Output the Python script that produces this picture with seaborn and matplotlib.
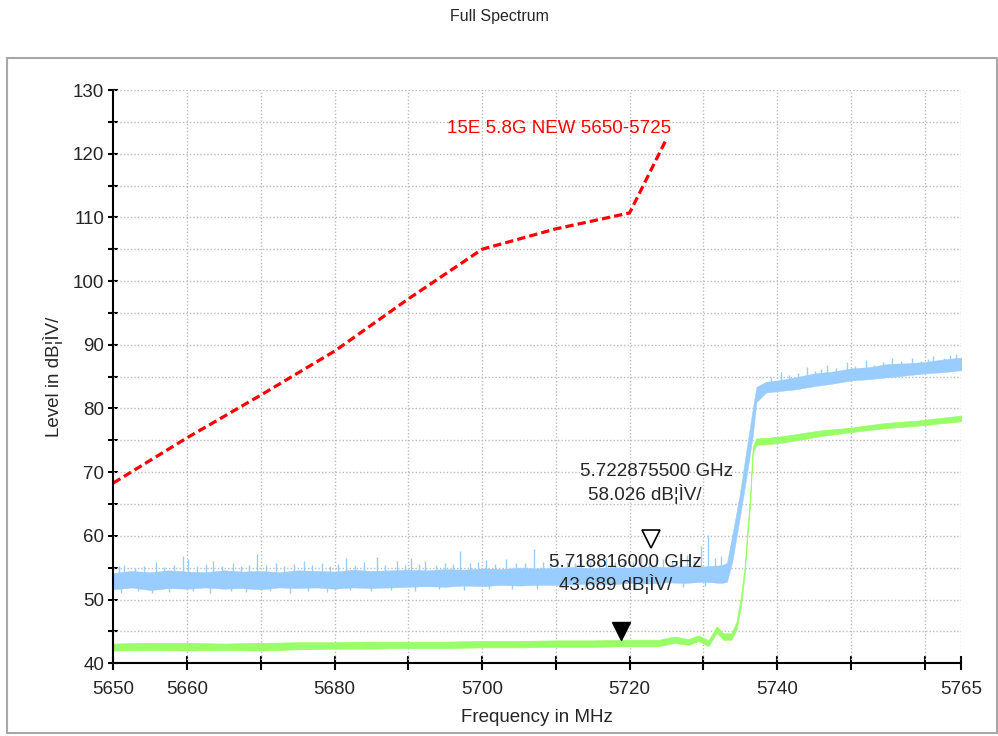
import numpy as np
import pandas as pd
import matplotlib
matplotlib.use('Agg')
import matplotlib.pyplot as plt
import matplotlib.transforms as mtransforms
from matplotlib.patches import Rectangle
import seaborn as sns

# DATA

# limit line 15E 5.8G NEW 5650-5725
limit_freq = [5650, 5660, 5670, 5680, 5690, 5700, 5710, 5720, 5725]
limit_level = [68.3, 75.4, 82.1, 89.0, 97.2, 105.0, 108.2, 110.7, 122.3]

# blue trace (max hold) - band envelope
blue_freq = [5650, 5652.5, 5655, 5657.5, 5660, 5662.5, 5665, 5667.5, 5670, 5672.5,
             5675, 5677.5, 5680, 5682.5, 5685, 5687.5, 5690, 5692.5, 5695, 5697.5,
             5700, 5702.5, 5705, 5707.5, 5710, 5712.5, 5715, 5717.5, 5720, 5722.5,
             5725, 5727.5, 5730, 5732.5, 5733.2, 5733.9, 5734.9, 5735.8, 5736.7, 5737.2,
             5738.5, 5740, 5742.5, 5745, 5747.5, 5750, 5752.5, 5755, 5757.5, 5760,
             5762.5, 5765]
blue_hi = [54.2, 54.5, 54.3, 54.6, 54.4, 54.3, 54.6, 54.4, 54.5, 54.3,
           54.6, 54.5, 54.4, 54.7, 54.5, 54.6, 54.7, 54.6, 54.8, 54.7,
           54.9, 54.8, 55.0, 54.9, 55.0, 55.1, 54.9, 55.1, 55.0, 55.2,
           55.1, 55.3, 55.2, 55.4, 55.8, 60.0, 66.3, 73.2, 80.0, 83.4,
           84.2, 84.4, 84.9, 85.5, 85.8, 86.3, 86.5, 87.0, 87.1, 87.3,
           87.7, 88.0]
blue_lo = [51.6, 51.9, 51.5, 51.8, 51.7, 51.9, 51.7, 51.8, 51.6, 51.9,
           51.8, 51.9, 51.7, 51.9, 51.8, 51.9, 52.0, 52.1, 52.0, 52.2,
           52.1, 52.3, 52.2, 52.3, 52.3, 52.4, 52.5, 52.4, 52.6, 52.5,
           52.7, 52.6, 52.8, 52.6, 52.8, 55.8, 62.6, 68.9, 75.7, 81.0,
           82.5, 82.7, 83.0, 83.5, 83.9, 84.4, 84.6, 84.9, 85.2, 85.5,
           85.7, 86.0]

# blue noise spikes above the flat part (frequency, peak level)
spike_freq = [5650.8, 5651.5, 5652.9, 5654.1, 5655.8, 5656.9, 5658.2, 5659.5, 5660.1, 5661.4,
              5662.6, 5663.5, 5664.8, 5666.2, 5667.3, 5668.4, 5669.5, 5670.7, 5672.0, 5673.2,
              5674.5, 5675.8, 5677.0, 5678.3, 5679.4, 5680.5, 5681.6, 5682.8, 5684.0, 5685.7,
              5686.9, 5688.5, 5689.6, 5690.4, 5691.4, 5692.3, 5693.7, 5695.0, 5696.1, 5697.0,
              5698.4, 5699.5, 5700.5, 5701.8, 5703.3, 5704.6, 5705.8, 5707.0, 5708.3, 5709.2,
              5710.2, 5711.5, 5712.6, 5713.4, 5714.7, 5715.9, 5716.8, 5718.0, 5719.3, 5720.4,
              5721.5, 5722.7, 5723.6, 5724.6, 5725.8, 5726.9, 5727.8, 5728.7, 5729.7, 5730.7,
              5731.6, 5732.4]
spike_top = [55.2, 55.5, 55.0, 55.3, 55.9, 55.1, 55.4, 56.9, 56.3, 55.2,
             55.6, 56.0, 55.3, 55.8, 55.2, 55.5, 57.1, 55.4, 55.7, 55.3,
             55.6, 56.0, 55.4, 55.8, 55.3, 55.6, 56.6, 55.5, 55.9, 56.7,
             55.4, 56.0, 55.5, 56.5, 55.6, 56.1, 55.5, 55.8, 55.6, 57.6,
             55.7, 55.9, 56.2, 55.6, 56.4, 55.8, 55.7, 57.9, 55.9, 55.7,
             56.6, 55.9, 55.8, 56.3, 55.9, 56.0, 56.5, 55.9, 56.1, 55.9,
             56.8, 56.0, 56.2, 56.4, 56.0, 56.3, 57.0, 56.2, 58.4, 60.2,
             56.5, 56.8]

# blue noise dips below the flat part (frequency, lowest level)
dip_freq = [5651.0, 5653.4, 5655.2, 5657.6, 5660.8, 5663.1, 5665.9, 5668.0, 5671.3, 5674.0,
            5676.4, 5679.0, 5682.1, 5685.0, 5687.7, 5690.9, 5694.2, 5697.6, 5700.9, 5704.1,
            5707.4, 5710.8, 5714.0, 5717.4, 5720.8, 5724.1, 5727.3, 5730.2]
dip_low = [51.1, 51.3, 51.0, 51.2, 51.3, 51.1, 51.4, 51.2, 51.3, 51.1,
           51.4, 51.2, 51.5, 51.3, 51.5, 51.4, 51.6, 51.5, 51.6, 51.7,
           51.6, 51.8, 51.7, 51.9, 51.8, 52.0, 51.9, 52.1]

# blue noise spikes above the high part (frequency, base, peak)
hspike_freq = [5739.2, 5740.5, 5741.6, 5742.8, 5744.0, 5745.2, 5746.0, 5746.8, 5748.0, 5749.5,
               5750.6, 5752.0, 5753.1, 5754.3, 5755.6, 5756.8, 5758.3, 5759.5, 5760.4, 5761.2,
               5762.6, 5763.5, 5764.3]
hspike_base = [83.8, 84.0, 84.2, 84.4, 84.7, 85.0, 85.1, 85.3, 85.5, 85.7,
               85.9, 86.0, 86.2, 86.4, 86.5, 86.6, 86.7, 86.8, 86.9, 87.0,
               87.2, 87.3, 87.5]
hspike_top = [85.0, 85.8, 85.2, 85.6, 86.5, 85.9, 86.2, 86.9, 86.4, 87.3,
              86.7, 87.6, 86.9, 87.3, 88.0, 87.4, 87.9, 87.5, 87.8, 88.2,
              87.9, 88.4, 88.6]

# green trace (average) - band envelope
green_freq = [5650, 5655, 5660, 5665, 5670, 5675, 5680, 5685, 5690, 5695,
              5700, 5705, 5710, 5715, 5720, 5724, 5726.1, 5728, 5729.3, 5730.7,
              5731.8, 5732.7, 5733.8, 5734.5, 5735.1, 5735.6, 5736.0, 5736.3, 5736.7, 5737.2,
              5738.8, 5741, 5745.5, 5750, 5754.5, 5759, 5765]
green_hi = [43.1, 43.2, 43.2, 43.1, 43.2, 43.3, 43.3, 43.4, 43.4, 43.4,
            43.5, 43.5, 43.6, 43.6, 43.7, 43.7, 44.2, 43.8, 44.4, 43.6,
            45.8, 44.7, 44.7, 46.5, 50.5, 55.2, 61.5, 65.6, 74.0, 75.3,
            75.4, 75.7, 76.5, 77.0, 77.7, 78.1, 78.9]
green_lo = [42.0, 42.1, 42.0, 42.1, 42.0, 42.2, 42.3, 42.3, 42.4, 42.4,
            42.5, 42.5, 42.6, 42.6, 42.7, 42.7, 43.2, 42.9, 43.5, 42.7,
            44.8, 43.7, 43.7, 45.3, 49.0, 54.0, 60.2, 64.3, 73.0, 74.3,
            74.4, 74.7, 75.6, 76.3, 76.9, 77.3, 78.0]

# markers
marker_freq = [5722.8755, 5718.816]
marker_level = [58.026, 43.689]

x_ticks = [5650, 5660, 5670, 5680, 5690, 5700, 5710, 5720, 5730, 5740, 5750, 5760, 5765]
x_labels = ['5650', '5660', '', '5680', '', '5700', '', '5720', '', '5740', '', '', '5765']
y_major = [40, 50, 60, 70, 80, 90, 100, 110, 120, 130]
y_minor = [45, 55, 65, 75, 85, 95, 105, 115, 125]

# PLOT
sns.set_theme(style='white')
plt.rcParams['font.family'] = ['Liberation Sans', 'DejaVu Sans']

fig = plt.figure(figsize=(9.98, 7.36), dpi=100)
ax = fig.add_axes([0.1135, 0.0988, 0.8499, 0.7789])

blue = '#99CCFF'
green = '#99FF66'

ax.fill_between(blue_freq, blue_lo, blue_hi, color=blue, lw=0.3, zorder=2)
ax.vlines(spike_freq, [53.5] * len(spike_freq), spike_top, color=blue, lw=1.0, zorder=2)
ax.vlines(dip_freq, dip_low, [53.0] * len(dip_freq), color=blue, lw=1.0, zorder=2)
ax.vlines(hspike_freq, hspike_base, hspike_top, color=blue, lw=1.0, zorder=2)
ax.fill_between(green_freq, green_lo, green_hi, color=green, lw=0.5, zorder=3)

limit_df = pd.DataFrame({'freq': limit_freq, 'level': limit_level})
sns.lineplot(data=limit_df, x='freq', y='level', color='#FF0000', lw=2.3,
             linestyle=(0, (2.6, 1.3)), ax=ax, zorder=4)

# marker triangles, tip on the measured point
shift = mtransforms.offset_copy(ax.transData, fig=fig, x=0, y=6.5, units='points')
ax.plot(marker_freq[0], marker_level[0], marker='v', ms=13, mfc='white', mec='black',
        mew=1.2, transform=shift, zorder=6)
ax.plot(marker_freq[1], marker_level[1], marker='v', ms=13, mfc='black', mec='black',
        transform=shift, zorder=6)

fs = 13.5
ax.text(5723.6, 70.1, '5.722875500 GHz', ha='center', va='center', fontsize=fs, zorder=7)
ax.text(5722.1, 66.6, '58.026 dB¦ÌV/', ha='center', va='center', fontsize=fs, zorder=7)
ax.text(5719.4, 55.9, '5.718816000 GHz', ha='center', va='center', fontsize=fs, zorder=7)
ax.text(5718.1, 52.4, '43.689 dB¦ÌV/', ha='center', va='center', fontsize=fs, zorder=7)
ax.text(5710.5, 124.0, '15E 5.8G NEW 5650-5725', ha='center', va='center',
        fontsize=fs, color='#FF0000', zorder=7)

ax.set_xlim(5650, 5765)
ax.set_ylim(40, 130)
ax.set_xticks(x_ticks)
ax.set_xticklabels(x_labels)
ax.set_yticks(y_major)
ax.set_yticks(y_minor, minor=True)

for v in y_major[1:] + y_minor:
    ax.axhline(v, color='#BBBBBB', lw=1.0, ls=(0, (1, 1.5)), zorder=1)
for v in x_ticks[1:]:
    ax.axvline(v, color='#BBBBBB', lw=1.0, ls=(0, (1, 1.5)), zorder=1)

for s in ['top', 'right']:
    ax.spines[s].set_visible(False)
for s in ['left', 'bottom']:
    ax.spines[s].set_color('black')
    ax.spines[s].set_linewidth(1.5)
    ax.spines[s].set_zorder(8)

ax.tick_params(axis='y', which='both', direction='inout', length=7, width=1.5,
               color='black', labelsize=fs, pad=3, left=True)
ax.tick_params(axis='x', which='both', direction='inout', length=9.5, width=1.5,
               color='black', labelsize=fs, pad=8, bottom=True)

ax.set_xlabel('Frequency in MHz', fontsize=fs, labelpad=8)
ax.set_ylabel('Level in dB¦ÌV/', fontsize=fs, labelpad=7)

fig.text(0.5, 1 - 17 / 736, 'Full Spectrum', ha='center', va='center', fontsize=11.5)

# outer frame
fig.patches.append(Rectangle((7 / 998, 1 - 733 / 736), 990 / 998, 675 / 736,
                             transform=fig.transFigure, fill=False,
                             edgecolor='#A8A8A8', lw=1.5))

fig.savefig('out.png', dpi=100)
